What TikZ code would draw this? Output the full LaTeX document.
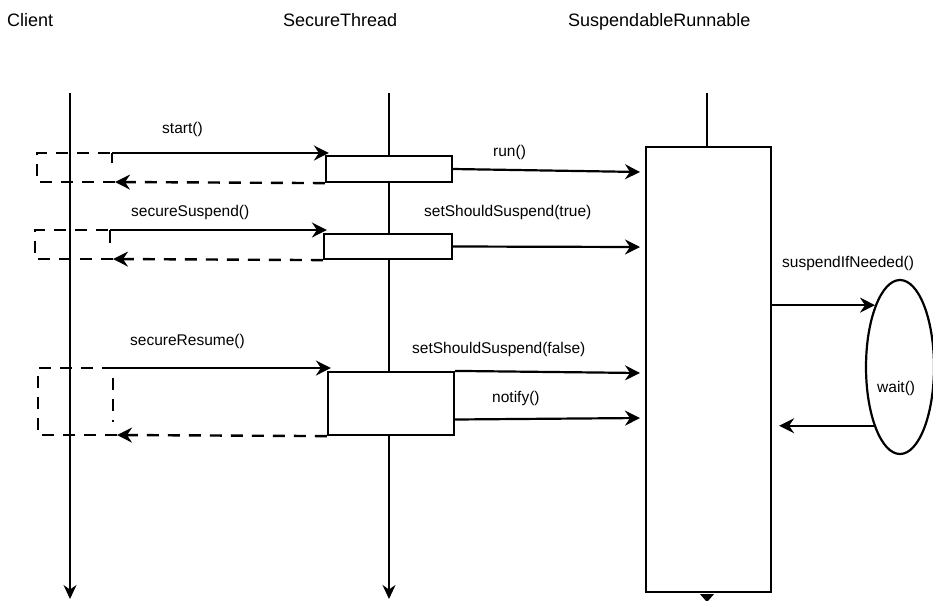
\documentclass[tikz,border=0pt]{standalone}
\usepackage{fontspec}
\setmainfont{Liberation Sans}
\usetikzlibrary{arrows.meta, shapes.geometric, calc, positioning}

\tikzset{
  life/.style={line width=1.8pt, -{Stealth[length=14pt,width=13pt,inset=4.5pt]}},
  msg/.style={line width=2.2pt, -{Stealth[length=15pt,width=15pt,inset=5pt]}},
  ret/.style={line width=2.4pt, dash pattern=on 12pt off 9pt},
  back/.style={ret, -{Stealth[length=15pt,width=15pt,inset=5pt]}},
  act/.style={draw, line width=2.2pt, fill=white, inner sep=0pt},
  lbl/.style={anchor=base west, inner sep=0pt, font=\fontsize{15.5}{18}\selectfont},
  head/.style={anchor=base west, inner sep=0pt, font=\fontsize{18}{22}\selectfont},
}

\begin{document}
\begin{tikzpicture}[x=1pt, y=-1pt]
  \useasboundingbox (0,0) rectangle (933,600);

  % headers
  \node[head] (client) at (7,26) {Client};
  \node[head] (thread) at (283,26) {SecureThread};
  \node[head] (runnable) at (568,26) {SuspendableRunnable};

  % lifelines
  \coordinate (cltop) at (70,93);
  \coordinate (clend) at (70,599);
  \coordinate (sttop) at (389,93);
  \coordinate (stend) at (389,599);
  \coordinate (srtop) at (707,93);
  \draw[life] (cltop) -- (clend);
  \draw[life] (sttop) -- (stend);

  % boxes
  \node[act, minimum width=125pt, minimum height=445pt] (rb) at (708.5,369.5) {};
  \draw[line width=1.8pt] (srtop) -- (srtop |- rb.north);
  \coordinate (srend) at (srtop |- rb.south);
  \fill ($(srend)+(-7,1)$) -- ($(srend)+(7,1)$) -- ($(srend)+(0,9)$) -- cycle;
  \node[act, minimum width=126pt, minimum height=26pt] (a1) at (389,169) {};
  \node[act, minimum width=128pt, minimum height=25pt] (a2) at (388,246.5) {};
  \node[act, minimum width=126pt, minimum height=63pt] (a3) at (391,403.5) {};
  \node[draw, ellipse, line width=2.2pt, minimum width=68pt, minimum height=174pt, inner sep=0pt] (wt) at (900,367) {};

  % start()
  \coordinate (c1) at (112,153);
  \draw[line width=2.2pt] (112,163) -- (c1);
  \draw[msg] (c1) -- ($(a1.west |- c1)+(4,0)$);
  \draw[back] (a1.south west) -- (115,182);
  \draw[ret] (115,182) -- (37,182) -- (37,153) -- (c1);

  % secureSuspend()
  \coordinate (c2) at (110,230);
  \draw[line width=2.2pt] (110,243) -- (c2);
  \draw[msg] (c2) -- ($(a2.west |- c2)+(4,0)$);
  \draw[back] (a2.south west) -- (113,259);
  \draw[ret] (113,259) -- (35,259) -- (35,230) -- (c2);

  % secureResume()
  \coordinate (c3) at (113,368);
  \draw[msg] (c3) -- ($(a3.west |- c3)+(4,0)$);
  \draw[back] (a3.south west) -- (117,435);
  \draw[ret] (117,435) -- (38,435) -- (38,368) -- (c3) -- (113,422);

  % calls on the runnable
  \coordinate (r1) at (640,172);
  \coordinate (r2) at (640,247);
  \coordinate (r3) at (640,373);
  \coordinate (r4) at (640,418);
  \draw[msg] (a1.east) -- (r1);
  \draw[msg] (a2.east) -- (r2);
  \draw[msg] (a3.north east) -- (r3);
  \draw[msg] ($(a3.east)+(0,16)$) -- (r4);

  % wait loop
  \draw[msg] (rb.east |- wt.112) -- (wt.112);
  \draw[msg] (wt.246) -- ($(rb.east |- wt.246)+(7,0)$);

  % labels
  \node[lbl] (lstart) at (162,133) {start()};
  \node[lbl] (lsusp) at (131,216) {secureSuspend()};
  \node[lbl] (lres) at (130,345) {secureResume()};
  \node[lbl] (lrun) at (493,156) {run()};
  \node[lbl] (ltrue) at (424,216) {setShouldSuspend(true)};
  \node[lbl] (lfalse) at (412,353) {setShouldSuspend(false)};
  \node[lbl] (lnotify) at (492,402) {notify()};
  \node[lbl] (lneeded) at (782,267) {suspendIfNeeded()};
  \node[lbl] (lwait) at (877,392) {wait()};
\end{tikzpicture}
\end{document}
